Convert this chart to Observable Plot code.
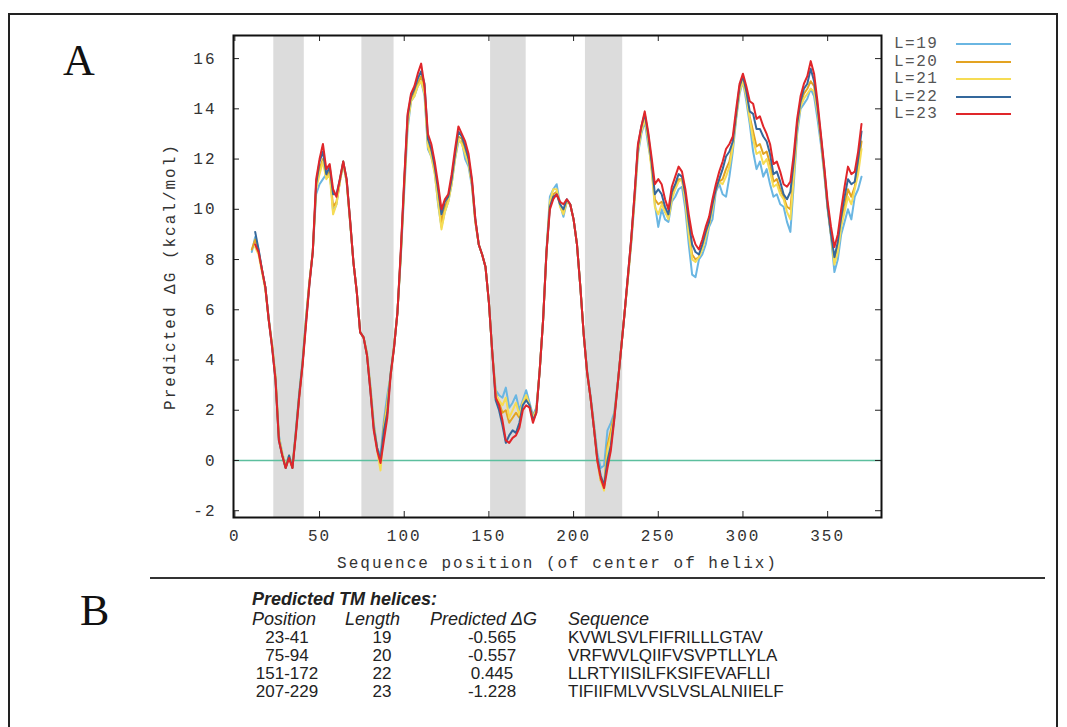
<!DOCTYPE html>
<html><head><meta charset="utf-8">
<script src="https://cdn.jsdelivr.net/npm/d3@7"></script>
<script src="https://cdn.jsdelivr.net/npm/@observablehq/plot@0.6"></script>
<style>
html,body{margin:0;padding:0;background:#fff;}
#page{position:relative;width:1067px;height:727px;overflow:hidden;background:#fff;}
#chart{position:absolute;left:0;top:0;}
#border{position:absolute;left:8px;top:13px;width:1050px;height:760px;border:2px solid #222;box-sizing:border-box;}
.panel{position:absolute;font-family:"Liberation Serif",serif;font-size:44px;line-height:44px;color:#111;}
.leg{position:absolute;font-family:"Liberation Mono",monospace;font-size:16px;line-height:18px;letter-spacing:1.5px;color:#555;white-space:nowrap;}
.legline{position:absolute;height:2px;}
#sep{position:absolute;left:150px;top:577px;width:895px;height:2px;background:#333;}
.tb{position:absolute;font-family:"Liberation Sans",Arial,sans-serif;font-size:17px;line-height:18px;color:#222;white-space:nowrap;}
.it{font-style:italic;font-size:18px;}
.bi{font-style:italic;font-weight:bold;font-size:18px;}
.ctr{transform:translateX(-50%);}
</style></head>
<body>
<div id="page"></div>
<script>
// ---- data ----
const positions = [10,12,14,16,18,20,22,24,26,28,
30,32,34,36,38,40,42,44,46,48,
50,52,54,56,58,60,62,64,66,68,
70,72,74,76,78,80,82,84,86,88,
90,92,94,96,98,100,102,104,106,108,
110,112,114,116,118,120,122,124,126,128,
130,132,134,136,138,140,142,144,146,148,
150,152,154,156,158,160,162,164,166,168,
170,172,174,176,178,180,182,184,186,188,
190,192,194,196,198,200,202,204,206,208,
210,212,214,216,218,220,222,224,226,228,
230,232,234,236,238,240,242,244,246,248,
250,252,254,256,258,260,262,264,266,268,
270,272,274,276,278,280,282,284,286,288,
290,292,294,296,298,300,302,304,306,308,
310,312,314,316,318,320,322,324,326,328,
330,332,334,336,338,340,342,344,346,348,
350,352,354,356,358,360,362,364,366,368,
370];

const L19 = [8.3,8.9,8.4,7.6,6.9,5.7,4.6,3.3,1.0,0.3,
-0.2,0.2,-0.2,1.2,2.7,4.0,5.7,7.1,8.3,10.6,
11.0,11.2,11.4,11.6,9.9,10.2,11.1,11.8,11.1,9.5,
7.9,6.7,5.1,4.9,4.3,3.0,1.5,0.5,0.2,1.6,
2.6,3.4,4.6,5.9,8.1,10.7,13.2,14.3,14.5,14.9,
15.1,14.5,12.4,12.1,11.5,10.2,9.3,9.9,10.3,11.0,
12.0,12.7,12.7,12.0,11.7,10.9,9.5,8.6,8.2,7.7,
6.3,4.3,2.8,2.6,2.5,2.9,2.1,2.3,2.6,2.0,
2.4,2.8,2.3,1.8,2.1,3.6,5.6,8.4,10.5,10.8,
11.0,10.2,9.7,10.3,10.2,9.6,8.6,6.9,5.0,3.6,
2.6,1.5,0.3,-0.3,-0.2,1.2,1.5,1.9,3.1,4.4,
5.8,7.2,8.6,10.3,12.2,13.0,13.5,12.6,11.8,10.2,
9.3,10.0,9.6,9.5,10.3,10.5,10.8,10.9,10.0,8.6,
7.4,7.3,8.0,8.2,8.6,9.3,9.6,10.7,11.0,10.6,
10.5,11.3,12.3,13.6,14.6,15.1,14.3,13.4,12.3,11.6,
11.9,11.3,11.6,11.0,10.5,10.6,10.2,10.1,9.5,9.1,
11.0,13.0,14.0,14.2,14.4,14.8,14.5,13.6,12.6,11.4,
10.0,8.9,7.5,8.0,9.0,9.5,10.0,9.6,10.5,10.8,
11.3];

const L20 = [8.4,8.8,8.3,7.6,6.9,5.6,4.6,3.3,0.9,0.2,
-0.3,0.1,-0.3,1.1,2.6,3.9,5.6,7.1,8.3,10.9,
11.6,12.0,11.3,11.5,10.1,10.3,11.1,11.9,11.1,9.6,
7.9,6.7,5.1,4.9,4.2,2.9,1.4,0.5,-0.2,1.4,
2.3,3.4,4.5,5.9,8.2,11.0,13.5,14.4,14.7,15.0,
15.3,14.8,12.6,12.3,11.6,10.5,9.5,10.1,10.4,11.1,
12.1,12.9,12.8,12.3,11.9,11.0,9.5,8.6,8.2,7.7,
6.3,4.3,2.7,2.3,1.9,2.0,1.5,1.7,1.9,1.7,
2.3,2.5,2.2,1.7,2.0,3.6,5.6,8.3,10.2,10.6,
10.7,10.2,9.9,10.3,10.2,9.6,8.6,6.9,5.0,3.5,
2.5,1.3,0.0,-0.8,-1.0,0.6,1.2,1.8,3.0,4.4,
5.8,7.2,8.7,10.5,12.4,13.2,13.7,12.9,11.7,10.4,
10.2,10.3,9.9,9.7,10.5,10.9,11.2,11.2,10.4,9.2,
8.2,8.0,8.1,8.5,9.0,9.4,10.1,10.8,11.1,11.2,
11.6,11.9,12.6,13.7,14.8,15.2,14.6,13.7,13.1,12.5,
12.6,12.2,12.3,11.8,11.1,11.2,10.8,10.5,10.1,10.0,
11.5,13.3,14.2,14.6,14.8,15.1,14.9,14.0,12.8,11.5,
10.1,9.0,7.9,8.5,9.5,10.1,10.8,10.5,10.9,11.7,
12.7];

const L21 = [null,8.5,8.2,7.5,6.8,5.6,4.6,3.3,0.9,0.3,
-0.2,0.2,-0.2,1.1,2.6,3.9,5.6,7.1,8.3,10.8,
11.4,11.9,11.2,11.4,9.8,10.2,11.1,11.8,11.1,9.5,
7.9,6.7,5.1,4.9,4.3,2.9,1.4,0.4,-0.4,1.3,
2.2,3.5,4.6,5.9,8.2,10.9,13.4,14.3,14.5,14.9,
15.1,14.6,12.5,12.1,11.4,10.3,9.2,9.9,10.3,11.0,
12.0,12.8,12.6,12.2,11.8,11.0,9.5,8.6,8.2,7.7,
6.3,4.3,2.6,2.4,2.2,2.5,1.7,2.0,2.3,1.8,
2.3,2.6,2.2,1.7,2.0,3.6,5.6,8.3,10.3,10.8,
10.8,10.1,9.8,10.3,10.2,9.6,8.6,6.9,5.0,3.5,
2.5,1.4,0.1,-0.8,-1.2,0.4,1.0,1.7,3.0,4.4,
5.8,7.2,8.7,10.4,12.3,13.1,13.6,12.8,11.6,10.1,
9.8,10.2,9.9,9.6,10.4,10.8,11.1,11.2,10.3,9.0,
8.0,7.9,8.1,8.4,8.9,9.4,10.0,10.8,11.1,11.0,
11.3,11.7,12.5,13.7,14.7,15.1,14.5,13.6,12.8,12.2,
12.3,11.8,12.0,11.5,10.9,11.0,10.6,10.4,9.9,9.6,
11.3,13.2,14.1,14.4,14.6,14.8,14.7,13.9,12.8,11.5,
10.1,9.0,7.8,8.3,9.3,9.9,10.5,10.2,10.8,11.4,
12.4];

const L22 = [null,9.1,8.4,7.6,6.9,5.6,4.5,3.2,0.8,0.2,
-0.3,0.2,-0.3,1.1,2.6,3.9,5.5,7.0,8.3,11.0,
11.9,12.3,11.4,11.7,10.6,10.6,11.2,11.9,11.2,9.6,
7.9,6.7,5.1,4.9,4.2,2.8,1.3,0.5,0.0,1.2,
1.9,3.5,4.5,5.9,8.3,11.1,13.7,14.5,14.8,15.2,
15.5,15.0,12.8,12.4,11.7,10.8,9.8,10.3,10.5,11.2,
12.2,13.1,12.9,12.5,12.0,11.1,9.6,8.6,8.2,7.7,
6.3,4.3,2.4,2.0,1.4,0.7,1.0,1.2,1.1,1.5,
2.2,2.4,2.2,1.6,1.9,3.6,5.6,8.3,10.1,10.5,
10.6,10.2,10.0,10.4,10.2,9.6,8.6,6.9,5.0,3.5,
2.5,1.3,0.1,-0.6,-1.0,0.0,0.6,1.7,3.0,4.4,
5.8,7.3,8.8,10.6,12.5,13.3,13.8,13.0,11.9,10.6,
10.8,10.6,10.1,9.8,10.7,11.0,11.4,11.3,10.6,9.5,
8.6,8.3,8.2,8.6,9.1,9.5,10.2,10.8,11.2,11.6,
12.1,12.3,12.7,13.8,14.9,15.3,14.7,13.9,13.8,13.2,
13.2,12.9,12.7,12.2,11.4,11.5,11.1,10.6,10.4,10.7,
11.9,13.4,14.3,14.8,15.0,15.6,15.1,14.1,12.9,11.6,
10.1,9.0,8.1,8.7,9.7,10.5,11.2,11.0,11.1,12.0,
13.1];

const L23 = [null,8.6,8.3,7.6,6.9,5.6,4.5,3.2,0.8,0.2,
-0.3,0.1,-0.3,1.0,2.5,3.8,5.4,7.0,8.3,11.2,
12.0,12.6,11.6,11.8,10.8,10.5,11.2,11.9,11.2,9.6,
7.9,6.7,5.1,4.9,4.2,2.8,1.2,0.4,-0.1,0.8,
1.7,3.4,4.5,5.9,8.4,11.2,13.8,14.6,14.9,15.4,
15.8,14.9,13.0,12.6,11.9,11.0,10.0,10.4,10.6,11.4,
12.4,13.3,13.0,12.7,12.2,11.2,9.6,8.6,8.2,7.7,
6.3,4.3,2.5,2.2,1.6,0.8,0.7,0.9,1.0,1.3,
2.0,2.2,2.1,1.5,1.9,3.6,5.6,8.3,10.0,10.4,
10.6,10.3,10.2,10.4,10.2,9.6,8.6,6.9,5.0,3.5,
2.5,1.3,0.0,-0.7,-1.1,-0.3,0.4,1.6,3.0,4.4,
5.8,7.3,8.8,10.6,12.6,13.3,13.9,13.1,12.1,11.0,
11.2,11.0,10.4,10.0,10.9,11.3,11.7,11.5,10.8,9.8,
9.0,8.6,8.4,8.8,9.3,9.7,10.4,11.0,11.5,11.9,
12.4,12.6,12.9,14.0,15.0,15.4,14.9,14.3,14.2,13.6,
13.7,13.3,13.0,12.6,11.8,11.9,11.5,11.0,10.9,11.1,
12.2,13.6,14.5,15.0,15.3,15.9,15.4,14.3,13.0,11.7,
10.3,9.3,8.5,9.0,10.0,10.9,11.7,11.4,11.5,12.3,
13.4];

const seriesNames = ["L=19","L=20","L=21","L=22","L=23"];
const seriesValues = [L19, L20, L21, L22, L23];
const seriesColors = ["#6ab6e2","#e3a322","#f6dc54","#34689c","#e0262a"];

const xTicks = [0,50,100,150,200,250,300,350];
const yTicks = [-2,0,2,4,6,8,10,12,14,16];

const helixPosition = ["23-41","75-94","151-172","207-229"];
const helixStart = [23,75,151,207];
const helixEnd = [41,94,172,229];
const helixLength = ["19","20","22","23"];
const helixDG = ["-0.565","-0.557","0.445","-1.228"];
const helixSeq = ["KVWLSVLFIFRILLLGTAV","VRFWVLQIIFVSVPTLLYLA","LLRTYIISILFKSIFEVAFLLI","TIFIIFMLVVSLVSLALNIIELF"];

// ---- build ----
const page = document.getElementById("page");
const rows = [];
seriesNames.forEach((name, k) => {
  seriesValues[k].forEach((v, i) => { if (v !== null) rows.push({x: positions[i], y: v, s: name}); });
});
const bands = helixStart.map((s, i) => ({start: s, end: helixEnd[i]}));

const fw = 1067 - 233 - 186, fh = 600 - 35 - 83;
const chart = Plot.plot({
  width: 1067, height: 600,
  marginLeft: 233, marginRight: 186, marginTop: 35, marginBottom: 83,
  x: {domain: [-0.8, 381.8]},
  y: {domain: [-2.27, 16.92]},
  style: {fontFamily: "'Liberation Mono', monospace", fontSize: "16px", letterSpacing: "2px", color: "#333", background: "transparent", overflow: "visible"},
  marks: [
    Plot.rect(bands, {x1: "start", x2: "end", fill: "#dcdcdc"}),
    Plot.ruleY([0], {stroke: "#5cbf9e", strokeWidth: 1.5}),
    ...seriesNames.map((name, k) => Plot.line(rows.filter(r => r.s === name), {x: "x", y: "y", stroke: seriesColors[k], strokeWidth: 2})),
    Plot.tickY(yTicks, {y: d => d, insetRight: fw - 6, stroke: "#222"}),
    Plot.tickY(yTicks, {y: d => d, insetLeft: fw - 6, stroke: "#222"}),
    Plot.tickX(xTicks, {x: d => d, insetTop: fh - 6, stroke: "#222"}),
    Plot.tickX(xTicks, {x: d => d, insetBottom: fh - 6, stroke: "#222"}),
    Plot.axisY({ticks: yTicks, tickSize: 0, tickPadding: 17, tickFormat: d => String(d),
      label: "Predicted ΔG (kcal/mol)", labelAnchor: "center", labelArrow: "none", labelOffset: 70}),
    Plot.axisX({ticks: xTicks, tickSize: 0, tickPadding: 12, tickFormat: d => String(d),
      label: "Sequence position (of center of helix)", labelAnchor: "center", labelArrow: "none", labelOffset: 50}),
    Plot.frame({stroke: "#111", strokeWidth: 2})
  ]
});
chart.id = "chart";
page.appendChild(chart);

function addDiv(cls, text, left, top, extra) {
  const d = document.createElement("div");
  d.className = cls;
  d.textContent = text;
  d.style.left = left + "px";
  d.style.top = top + "px";
  if (extra) Object.assign(d.style, extra);
  page.appendChild(d);
  return d;
}

// legend
seriesNames.forEach((name, k) => {
  const cy = 44 + k * 17.5;
  addDiv("leg", name, 894, cy - 8.6);
  addDiv("legline", "", 956, cy - 1, {width: "55px", background: seriesColors[k]});
});

// panel letters, separator
addDiv("panel", "A", 63, 39);
addDiv("panel", "B", 80, 589);
const sep = document.createElement("div"); sep.id = "sep"; page.appendChild(sep);

// table
addDiv("tb bi", "Predicted TM helices:", 252, 590);
addDiv("tb it", "Position", 252, 610);
addDiv("tb it", "Length", 345, 610);
addDiv("tb it", "Predicted ΔG", 430, 610);
addDiv("tb it", "Sequence", 568, 610);
helixPosition.forEach((p, i) => {
  const top = 629 + i * 18;
  addDiv("tb ctr", p, 287, top);
  addDiv("tb ctr", helixLength[i], 382, top);
  addDiv("tb ctr", helixDG[i], 492, top);
  addDiv("tb", helixSeq[i], 568, top);
});

const border = document.createElement("div"); border.id = "border"; page.appendChild(border);
</script>
</body></html>
